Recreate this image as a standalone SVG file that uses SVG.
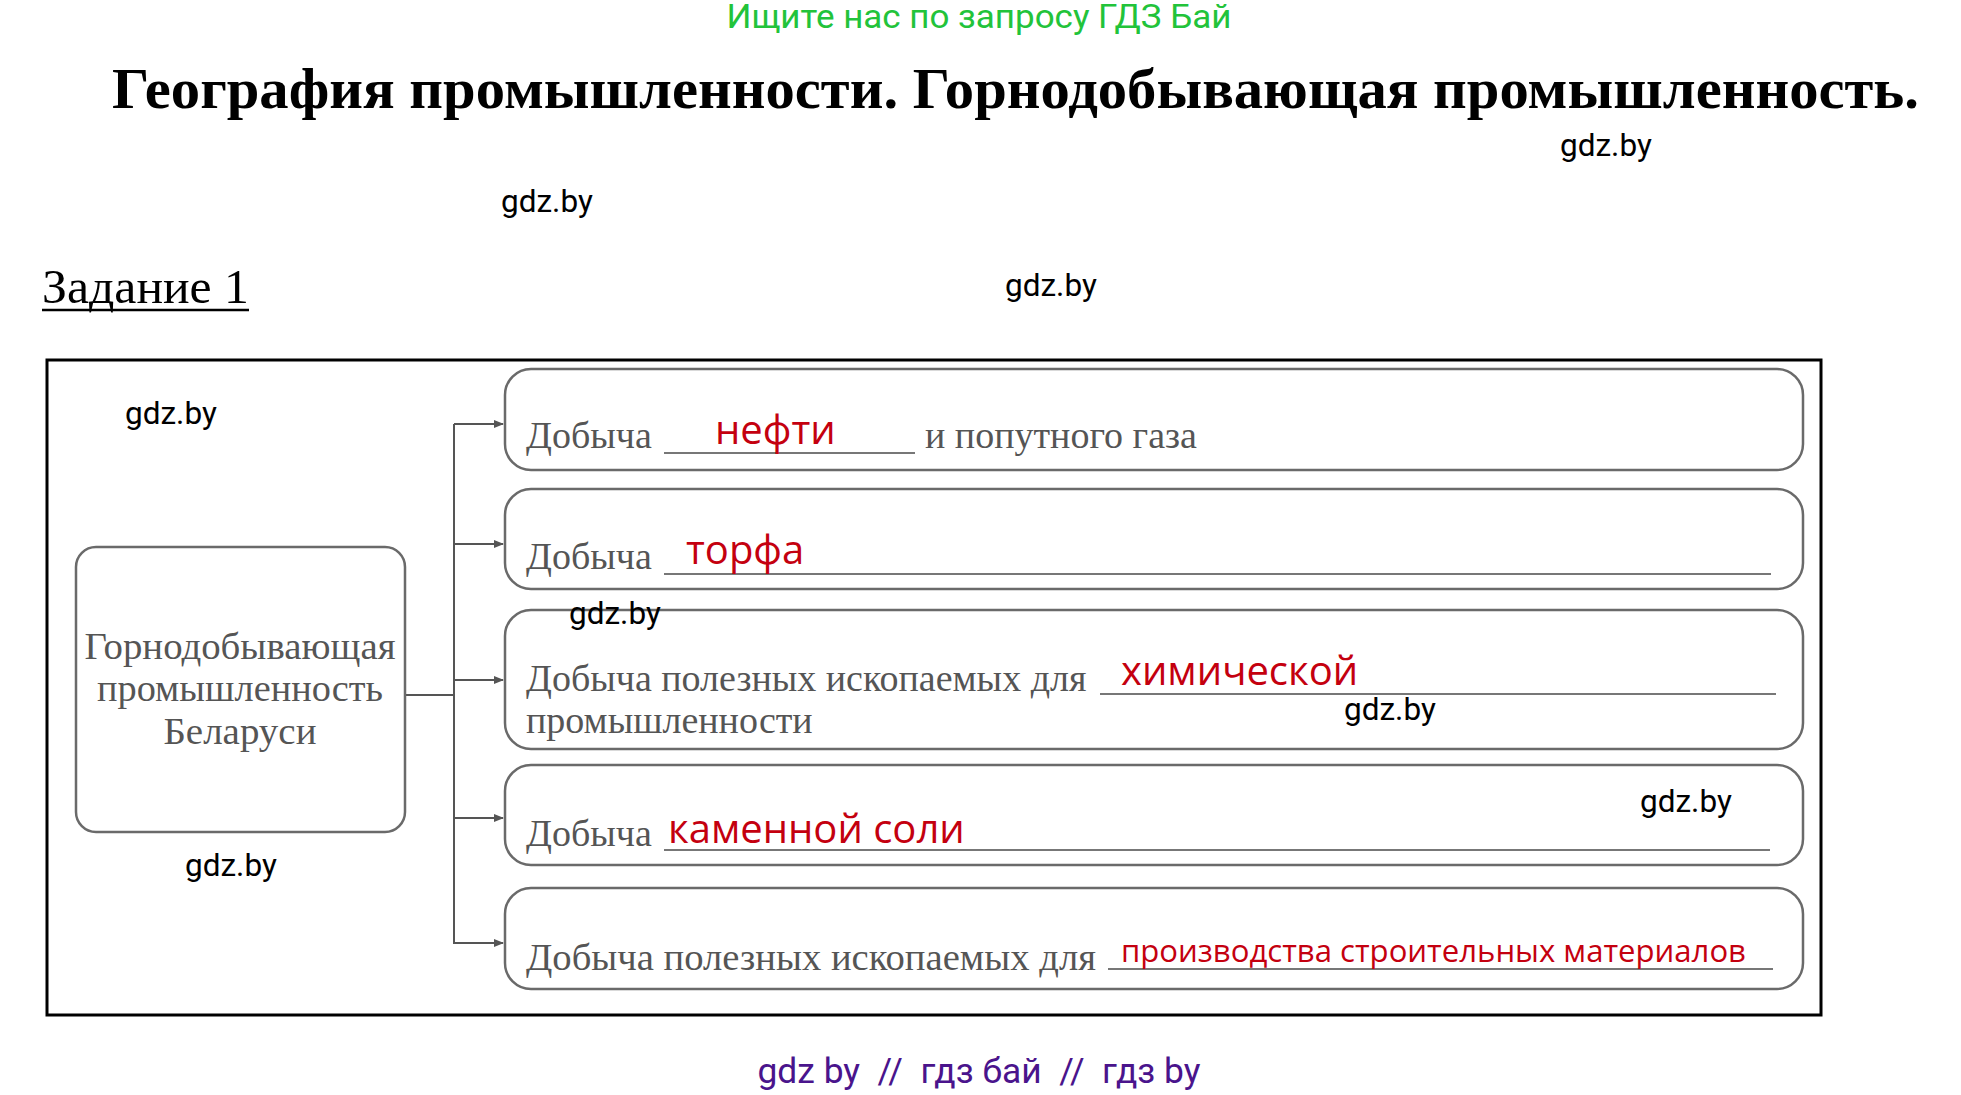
<svg xmlns="http://www.w3.org/2000/svg" width="1961" height="1095" viewBox="0 0 1961 1095">
<defs>
<style>
.wm{font-family:Roboto,"Liberation Sans",sans-serif;font-size:31.5px;fill:#000}
.book{font-family:"Liberation Serif","DejaVu Serif",serif;font-size:38px;fill:#555}
.ans{font-family:"Open Sans","Liberation Sans",sans-serif;font-size:40px;fill:#c4000f}
.box{fill:#fff;stroke:#6a6a6a;stroke-width:2.5}
.line{stroke:#777;stroke-width:2;fill:none}
.conn{stroke:#555;stroke-width:2;fill:none}
</style>
<marker id="arr" markerWidth="10" markerHeight="8" refX="9" refY="4" orient="auto" markerUnits="userSpaceOnUse">
<path d="M0,0 L10,4 L0,8 z" fill="#555"/>
</marker>
</defs>
<rect width="1961" height="1095" fill="#fff"/>
<text x="979" y="28" text-anchor="middle" font-family="Roboto,'Liberation Sans',sans-serif" font-size="33" fill="#22c33a" textLength="505" lengthAdjust="spacingAndGlyphs">Ищите нас по запросу ГДЗ Бай</text>
<text x="112" y="108" font-family="'Liberation Serif','DejaVu Serif',serif" font-weight="bold" font-size="58" fill="#000" textLength="1807" lengthAdjust="spacingAndGlyphs">География промышленности. Горнодобывающая промышленность.</text>
<text x="42" y="303" font-family="'Liberation Serif','DejaVu Serif',serif" font-size="48" fill="#000" textLength="207" lengthAdjust="spacingAndGlyphs">Задание 1</text>
<line x1="42" y1="310" x2="249" y2="310" stroke="#000" stroke-width="2.5"/>

<rect x="47" y="360" width="1774" height="655" fill="none" stroke="#000" stroke-width="3"/>

<g id="connectors">
<path class="conn" d="M405,695 H454 M454,424 V944"/>
<line class="conn" x1="454" y1="424" x2="503" y2="424" marker-end="url(#arr)"/>
<line class="conn" x1="454" y1="544" x2="503" y2="544" marker-end="url(#arr)"/>
<line class="conn" x1="454" y1="680" x2="503" y2="680" marker-end="url(#arr)"/>
<line class="conn" x1="454" y1="818" x2="503" y2="818" marker-end="url(#arr)"/>
<line class="conn" x1="454" y1="943" x2="503" y2="943" marker-end="url(#arr)"/>
</g>

<g id="root">
<rect class="box" x="76" y="547" width="329" height="285" rx="20"/>
<text class="book" x="240" y="659" text-anchor="middle" textLength="311" lengthAdjust="spacingAndGlyphs">Горнодобывающая</text>
<text class="book" x="240" y="701" text-anchor="middle" textLength="286" lengthAdjust="spacingAndGlyphs">промышленность</text>
<text class="book" x="240" y="744" text-anchor="middle" textLength="153" lengthAdjust="spacingAndGlyphs">Беларуси</text>
</g>

<g id="oil">
<rect class="box" x="505" y="369" width="1298" height="101" rx="26"/>
<text class="book" x="526" y="448">Добыча</text>
<line class="line" x1="664" y1="453" x2="915" y2="453"/>
<text class="ans" x="715" y="444">нефти</text>
<text class="book" x="925" y="448">и попутного газа</text>
</g>

<g id="peat">
<rect class="box" x="505" y="489" width="1298" height="100" rx="26"/>
<text class="book" x="526" y="569">Добыча</text>
<line class="line" x1="664" y1="574" x2="1771" y2="574"/>
<text class="ans" x="686" y="564">торфа</text>
</g>

<g id="chem">
<rect class="box" x="505" y="610" width="1298" height="139" rx="26"/>
<text class="book" x="526" y="691">Добыча полезных ископаемых для</text>
<line class="line" x1="1100" y1="694" x2="1776" y2="694"/>
<text class="ans" x="1121" y="685">химической</text>
<text class="book" x="526" y="733">промышленности</text>
</g>

<g id="salt">
<rect class="box" x="505" y="765" width="1298" height="100" rx="26"/>
<text class="book" x="526" y="846">Добыча</text>
<line class="line" x1="664" y1="850" x2="1770" y2="850"/>
<text class="ans" x="668" y="843">каменной соли</text>
</g>

<g id="build">
<rect class="box" x="505" y="888" width="1298" height="101" rx="26"/>
<text class="book" x="526" y="970" textLength="570" lengthAdjust="spacingAndGlyphs">Добыча полезных ископаемых для</text>
<line class="line" x1="1108" y1="969" x2="1773" y2="969"/>
<text class="ans" x="1121" y="962" style="font-size:31px" textLength="625" lengthAdjust="spacingAndGlyphs">производства строительных материалов</text>
</g>

<g id="watermarks">
<text class="wm" x="1560" y="156">gdz.by</text>
<text class="wm" x="501" y="212">gdz.by</text>
<text class="wm" x="1005" y="296">gdz.by</text>
<text class="wm" x="125" y="424">gdz.by</text>
<text class="wm" x="569" y="624">gdz.by</text>
<text class="wm" x="1344" y="720">gdz.by</text>
<text class="wm" x="1640" y="812">gdz.by</text>
<text class="wm" x="185" y="876">gdz.by</text>
</g>

<text x="979" y="1083" text-anchor="middle" font-family="Roboto,'Liberation Sans',sans-serif" font-size="35" fill="#4a148c" xml:space="preserve" textLength="443" lengthAdjust="spacingAndGlyphs">gdz by  //  гдз бай  //  гдз by</text>
</svg>
